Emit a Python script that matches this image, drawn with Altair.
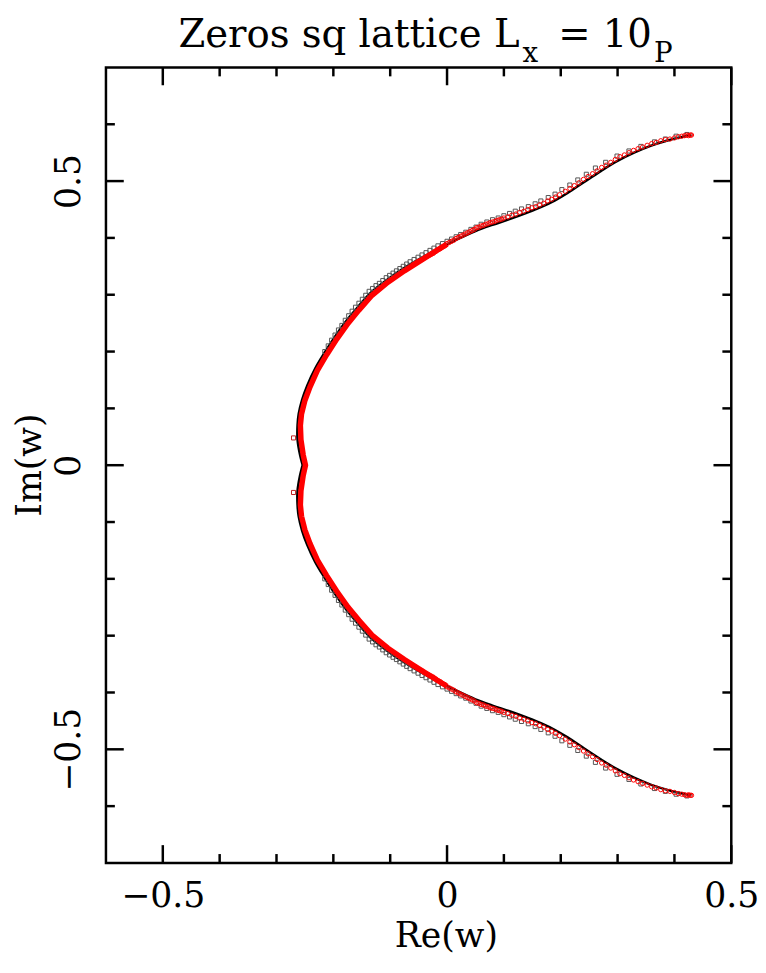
import altair as alt
import pandas as pd

# ---------------- data ----------------
# black curve, upper branch from the cusp to the end point (x shared by both branches)
LINE_X = [-0.254, -0.259, -0.263, -0.263, -0.261, -0.255, -0.246, -0.232, -0.216, -0.198,
          -0.178, -0.158, -0.135, -0.106, -0.077, -0.050, -0.019, 0.015, 0.050, 0.080,
          0.110, 0.140, 0.165, 0.190, 0.212, 0.242, 0.271, 0.299, 0.329, 0.358,
          0.386, 0.410, 0.430]
LINE_Y_UP = [0.000, 0.020, 0.045, 0.070, 0.090, 0.115, 0.140, 0.170, 0.197, 0.225,
             0.253, 0.277, 0.303, 0.326, 0.346, 0.362, 0.379, 0.396, 0.412, 0.423,
             0.433, 0.444, 0.454, 0.466, 0.479, 0.499, 0.518, 0.535, 0.550, 0.562,
             0.571, 0.577, 0.581]
LINE_Y_DN = [-0.000, -0.020, -0.045, -0.070, -0.090, -0.115, -0.140, -0.170, -0.197, -0.225,
             -0.253, -0.277, -0.303, -0.326, -0.346, -0.362, -0.379, -0.396, -0.412, -0.423,
             -0.433, -0.444, -0.454, -0.466, -0.479, -0.499, -0.518, -0.535, -0.550, -0.562,
             -0.571, -0.577, -0.581]

# dense red band (overlapping red circles) near the cusp
BAND_X = [-0.249, -0.253, -0.257, -0.258, -0.256, -0.250, -0.241, -0.228, -0.212, -0.194,
          -0.174, -0.155, -0.132, -0.104, -0.075, -0.048, -0.018, 0.000]
BAND_Y_UP = [0.000, 0.018, 0.045, 0.070, 0.090, 0.114, 0.138, 0.167, 0.194, 0.222,
             0.250, 0.273, 0.299, 0.322, 0.342, 0.359, 0.378, 0.389]
BAND_Y_DN = [-0.000, -0.018, -0.045, -0.070, -0.090, -0.114, -0.138, -0.167, -0.194, -0.222,
             -0.250, -0.273, -0.299, -0.322, -0.342, -0.359, -0.378, -0.389]

# red open circles
CIRC_X = [-0.060, -0.056, -0.052, -0.048, -0.044, -0.040, -0.036, -0.032, -0.028, -0.024,
          -0.020, -0.016, -0.012, -0.008, -0.004, 0.000, 0.004, 0.008, 0.012, 0.016,
          0.020, 0.024, 0.028, 0.032, 0.036, 0.040, 0.044, 0.048, 0.052, 0.056,
          0.060, 0.064, 0.068, 0.072, 0.076, 0.080, 0.084, 0.088, 0.092, 0.096,
          0.100, 0.107, 0.114, 0.121, 0.128, 0.135, 0.142, 0.149, 0.156, 0.163,
          0.170, 0.177, 0.184, 0.191, 0.198, 0.208, 0.216, 0.224, 0.232, 0.240,
          0.248, 0.256, 0.264, 0.272, 0.280, 0.288, 0.296, 0.304, 0.312, 0.320,
          0.328, 0.336, 0.344, 0.352, 0.360, 0.368, 0.376, 0.384, 0.392, 0.400,
          0.407, 0.413, 0.418, 0.422, 0.425, 0.428, 0.430]
CIRC_Y_UP = [0.353, 0.355, 0.358, 0.360, 0.362, 0.365, 0.367, 0.369, 0.371, 0.373,
             0.376, 0.379, 0.381, 0.384, 0.386, 0.390, 0.392, 0.394, 0.396, 0.399,
             0.401, 0.403, 0.405, 0.407, 0.409, 0.411, 0.413, 0.415, 0.418, 0.419,
             0.421, 0.422, 0.424, 0.425, 0.427, 0.428, 0.429, 0.431, 0.432, 0.433,
             0.435, 0.437, 0.440, 0.442, 0.445, 0.447, 0.450, 0.453, 0.455, 0.458,
             0.461, 0.465, 0.468, 0.472, 0.476, 0.482, 0.487, 0.492, 0.497, 0.503,
             0.508, 0.513, 0.518, 0.524, 0.528, 0.533, 0.538, 0.543, 0.546, 0.550,
             0.554, 0.557, 0.560, 0.563, 0.566, 0.568, 0.571, 0.573, 0.574, 0.576,
             0.578, 0.579, 0.580, 0.581, 0.580, 0.581, 0.581]
CIRC_Y_DN = [-0.353, -0.355, -0.358, -0.360, -0.362, -0.365, -0.367, -0.369, -0.371, -0.373,
             -0.376, -0.379, -0.381, -0.384, -0.386, -0.390, -0.392, -0.394, -0.396, -0.399,
             -0.401, -0.403, -0.405, -0.407, -0.409, -0.411, -0.413, -0.415, -0.418, -0.419,
             -0.421, -0.422, -0.424, -0.425, -0.427, -0.428, -0.429, -0.431, -0.432, -0.433,
             -0.435, -0.437, -0.440, -0.442, -0.445, -0.447, -0.450, -0.453, -0.455, -0.458,
             -0.461, -0.465, -0.468, -0.472, -0.476, -0.482, -0.487, -0.492, -0.497, -0.503,
             -0.508, -0.513, -0.518, -0.524, -0.528, -0.533, -0.538, -0.543, -0.546, -0.550,
             -0.554, -0.557, -0.560, -0.563, -0.566, -0.568, -0.571, -0.573, -0.574, -0.576,
             -0.578, -0.579, -0.580, -0.581, -0.580, -0.581, -0.581]

# grey open squares
SQ_X = [0.422, 0.403, 0.384, 0.365, 0.341, 0.320, 0.299, 0.279, 0.261, 0.245,
        0.230, 0.216, 0.202, 0.190, 0.178, 0.165, 0.155, 0.143, 0.131, 0.120,
        0.110, 0.100, 0.090, 0.080, 0.070, 0.060, 0.051, 0.042, 0.033, 0.024,
        0.016, 0.008, 0.000, -0.008, -0.016, -0.023, -0.030, -0.037, -0.044, -0.051,
        -0.058, -0.065, -0.071, -0.077, -0.083, -0.089, -0.095, -0.101, -0.107, -0.113,
        -0.119, -0.125, -0.131, -0.137, -0.143, -0.149, -0.155, -0.161, -0.167, -0.173,
        -0.179, -0.185, -0.191, -0.197, -0.203, -0.209, -0.215]
SQ_Y_UP = [0.582, 0.579, 0.574, 0.569, 0.561, 0.553, 0.544, 0.533, 0.523, 0.512,
           0.502, 0.493, 0.485, 0.477, 0.471, 0.465, 0.460, 0.455, 0.451, 0.447,
           0.443, 0.439, 0.435, 0.432, 0.428, 0.424, 0.419, 0.415, 0.410, 0.406,
           0.402, 0.398, 0.394, 0.390, 0.386, 0.382, 0.378, 0.374, 0.370, 0.366,
           0.362, 0.358, 0.354, 0.350, 0.346, 0.342, 0.338, 0.334, 0.330, 0.325,
           0.320, 0.316, 0.311, 0.306, 0.299, 0.292, 0.285, 0.278, 0.271, 0.263,
           0.255, 0.246, 0.238, 0.229, 0.220, 0.210, 0.200]
SQ_Y_DN = [-0.582, -0.579, -0.574, -0.569, -0.561, -0.553, -0.544, -0.533, -0.523, -0.512,
           -0.502, -0.493, -0.485, -0.477, -0.471, -0.465, -0.460, -0.455, -0.451, -0.447,
           -0.443, -0.439, -0.435, -0.432, -0.428, -0.424, -0.419, -0.415, -0.410, -0.406,
           -0.402, -0.398, -0.394, -0.390, -0.386, -0.382, -0.378, -0.374, -0.370, -0.366,
           -0.362, -0.358, -0.354, -0.350, -0.346, -0.342, -0.338, -0.334, -0.330, -0.325,
           -0.320, -0.316, -0.311, -0.306, -0.299, -0.292, -0.285, -0.278, -0.271, -0.263,
           -0.255, -0.246, -0.238, -0.229, -0.220, -0.210, -0.200]

# the two isolated red squares next to the cusp
RSQ_X = [-0.270, -0.270]
RSQ_Y = [0.048, -0.048]

# ticks and labels
X_MAJOR = [-0.5, 0.0, 0.5]
X_MINOR = [-0.4, -0.3, -0.2, -0.1, 0.1, 0.2, 0.3, 0.4]
Y_MAJOR = [-0.5, 0.0, 0.5]
Y_MINOR = [-0.6, -0.4, -0.3, -0.2, -0.1, 0.1, 0.2, 0.3, 0.4, 0.6]
TITLE_MAIN = ["Zeros sq lattice L"]
TITLE_SUB1 = ["x"]
TITLE_MID = ["= 10"]
TITLE_SUB2 = ["P"]
X_TITLE = ["Re(w)"]
Y_TITLE = ["Im(w)"]

# ---------------- chart ----------------
W, H = 632, 804
FONT = "DejaVu Serif"
xs = alt.Scale(domain=[-0.6, 0.5], nice=False, zero=False)
ys = alt.Scale(domain=[-0.7, 0.7], nice=False, zero=False)

line_df = pd.DataFrame({
    "x": LINE_X[::-1] + LINE_X,
    "y": LINE_Y_UP[::-1] + LINE_Y_DN,
})
line_df["o"] = range(len(line_df))
band_df = pd.DataFrame({
    "x": BAND_X[::-1] + BAND_X,
    "y": BAND_Y_UP[::-1] + BAND_Y_DN,
})
band_df["o"] = range(len(band_df))
circ_df = pd.DataFrame({"x": CIRC_X + CIRC_X, "y": CIRC_Y_UP + CIRC_Y_DN})
sq_df = pd.DataFrame({"x": SQ_X + SQ_X, "y": SQ_Y_UP + SQ_Y_DN})
rsq_df = pd.DataFrame({"x": RSQ_X, "y": RSQ_Y})

x_axis = alt.Axis(values=X_MAJOR, format="~g", ticks=False, tickSize=0, domain=False,
                  grid=False, labelFont=FONT, labelFontSize=35, labelColor="black",
                  labelPadding=44, labelBaseline="alphabetic", labelFlush=False,
                  labelOverlap=False, title=None)
y_axis = alt.Axis(values=Y_MAJOR, format="~g", ticks=False, tickSize=0, domain=False,
                  grid=False, labelFont=FONT, labelFontSize=35, labelColor="black",
                  labelAngle=270, labelAlign="center", labelBaseline="alphabetic",
                  labelPadding=27, labelFlush=False, labelOverlap=False, title=None)


def X(field):
    return alt.X(field, scale=xs, axis=x_axis)


def Y(field):
    return alt.Y(field, scale=ys, axis=y_axis)


black_line = alt.Chart(line_df).mark_line(color="black", strokeWidth=2.5,
                                          interpolate="catmull-rom").encode(
    x=X("x:Q"), y=Y("y:Q"), order="o:Q")
squares = alt.Chart(sq_df).mark_point(shape="square", filled=False, size=17,
                                      color="#555555", strokeWidth=1, opacity=1).encode(
    x=X("x:Q"), y=Y("y:Q"))
band = alt.Chart(band_df).mark_line(color="#ff0000", strokeWidth=5.5).encode(
    x=X("x:Q"), y=Y("y:Q"), order="o:Q")
circles = alt.Chart(circ_df).mark_point(shape="circle", filled=False, size=19,
                                        color="#ff0000", strokeWidth=1, opacity=1).encode(
    x=X("x:Q"), y=Y("y:Q"))
red_sq = alt.Chart(rsq_df).mark_point(shape="square", filled=False, size=17,
                                      color="#c02020", strokeWidth=1, opacity=1).encode(
    x=X("x:Q"), y=Y("y:Q"))

MAJ, MIN = 18, 9
tick_layers = []
for vals, ln in ((X_MAJOR, MAJ), (X_MINOR, MIN)):
    d = pd.DataFrame({"v": vals})
    base = alt.Chart(d).mark_rule(color="black", strokeWidth=2.5)
    tick_layers.append(base.encode(x=X("v:Q"), y=alt.value(H), y2=alt.value(H - ln)))
    tick_layers.append(base.encode(x=X("v:Q"), y=alt.value(0), y2=alt.value(ln)))
for vals, ln in ((Y_MAJOR, MAJ), (Y_MINOR, MIN)):
    d = pd.DataFrame({"v": vals})
    base = alt.Chart(d).mark_rule(color="black", strokeWidth=2.5)
    tick_layers.append(base.encode(y=Y("v:Q"), x=alt.value(0), x2=alt.value(ln)))
    tick_layers.append(base.encode(y=Y("v:Q"), x=alt.value(W), x2=alt.value(W - ln)))


def txt(parts, size, x, y, align="left", angle=0):
    return alt.Chart(pd.DataFrame({"t": parts})).mark_text(
        font=FONT, fontSize=size, color="black", align=align, baseline="alphabetic",
        angle=angle).encode(text="t:N", x=alt.value(x), y=alt.value(y))


texts = [
    txt(TITLE_MAIN, 39, 418, -21, align="right"),
    txt(TITLE_SUB1, 28, 421, -6),
    txt(TITLE_MID, 39, 457, -21),
    txt(TITLE_SUB2, 28, 554, -6),
    txt(X_TITLE, 35, 344, 889, align="center"),
    txt(Y_TITLE, 35, -66, 402, align="center", angle=270),
]

chart = alt.layer(black_line, squares, band, circles, red_sq, *tick_layers, *texts).properties(
    width=W, height=H,
    padding={"left": 99, "top": 55, "right": 27, "bottom": 93},
    autosize=alt.AutoSizeParams(type="none"),
).configure_view(stroke="black", strokeWidth=2.5)

chart.save("out.html", embed_options={"renderer": "svg", "actions": False})
